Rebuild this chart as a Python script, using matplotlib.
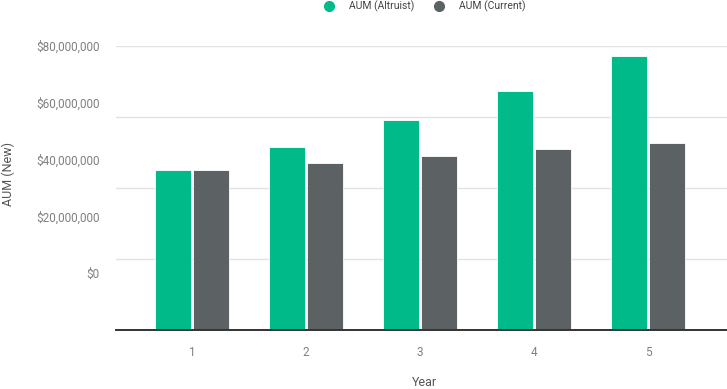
import numpy as np
import matplotlib.pyplot as plt
from matplotlib.lines import Line2D
from matplotlib.ticker import FuncFormatter

plt.rcParams['font.family'] = ['Roboto', 'DejaVu Sans']

years = [1, 2, 3, 4, 5]
aum_altruist = [45.0e6, 51.5e6, 59.1e6, 67.4e6, 77.3e6]
aum_current = [45.0e6, 46.9e6, 48.9e6, 50.9e6, 52.7e6]

green = "#00BA8A"
grey = "#5C6263"
label_col = "#808080"

fig = plt.figure(figsize=(7.27, 3.89), dpi=100)
ax = fig.add_axes([116 / 727, 1 - 329.7 / 389, 1 - 116 / 727, (329.7 - 46) / 389])

x = np.array(years)
w = 0.316
ax.bar(x - 0.166, aum_altruist, w, color=green, edgecolor="white", linewidth=0.6, zorder=3)
ax.bar(x + 0.166, aum_current, w, color=grey, edgecolor="white", linewidth=0.6, zorder=3)

ax.set_xlim(0.334, 5.69)
ax.set_ylim(0, 80e6)

# dollar labels sit on their own scale (as in the original)
ax2 = ax.twinx()
ax2.set_ylim(-20e6, 80e6)
ax2.set_yticks([0, 20e6, 40e6, 60e6, 80e6])
ax2.yaxis.set_major_formatter(FuncFormatter(lambda v, p: "${:,.0f}".format(v)))
ax2.yaxis.tick_left()
ax2.tick_params(axis="y", length=0, pad=12, labelsize=8.5, labelcolor=label_col)
for s in ax2.spines.values():
    s.set_visible(False)

ax.set_yticks([0, 20e6, 40e6, 60e6, 80e6])
ax.yaxis.grid(True, color="#e3e3e3", linewidth=1, zorder=0)
ax.tick_params(axis="y", left=False, right=False, labelleft=False, labelright=False)
ax.set_xticks(years)
ax.set_xticklabels([str(y) for y in years])
ax.tick_params(axis="x", length=0, pad=12, labelsize=8.5, labelcolor=label_col)
for s in ["top", "right", "left"]:
    ax.spines[s].set_visible(False)
ax.spines["bottom"].set_color("#333333")
ax.spines["bottom"].set_linewidth(1.4)
ax.spines["bottom"].set_zorder(4)

fig.text(424 / 727, 1 - 382 / 389, "Year", ha="center", va="center", fontsize=9, color="#555555")
fig.text(8 / 727, 1 - 174 / 389, "AUM (New)", ha="center", va="center", rotation=90, fontsize=9, color="#555555")

handles = [
    Line2D([], [], marker="o", linestyle="", color=green, markersize=7),
    Line2D([], [], marker="o", linestyle="", color=grey, markersize=7),
]
fig.legend(handles, ["AUM (Altruist)", "AUM (Current)"], loc="center", bbox_to_anchor=(422 / 727, 1 - 6 / 389),
           ncol=2, frameon=False, fontsize=7.5, handletextpad=0.9, columnspacing=1.35, labelcolor="#444444")

fig.savefig("out.png", dpi=100)
